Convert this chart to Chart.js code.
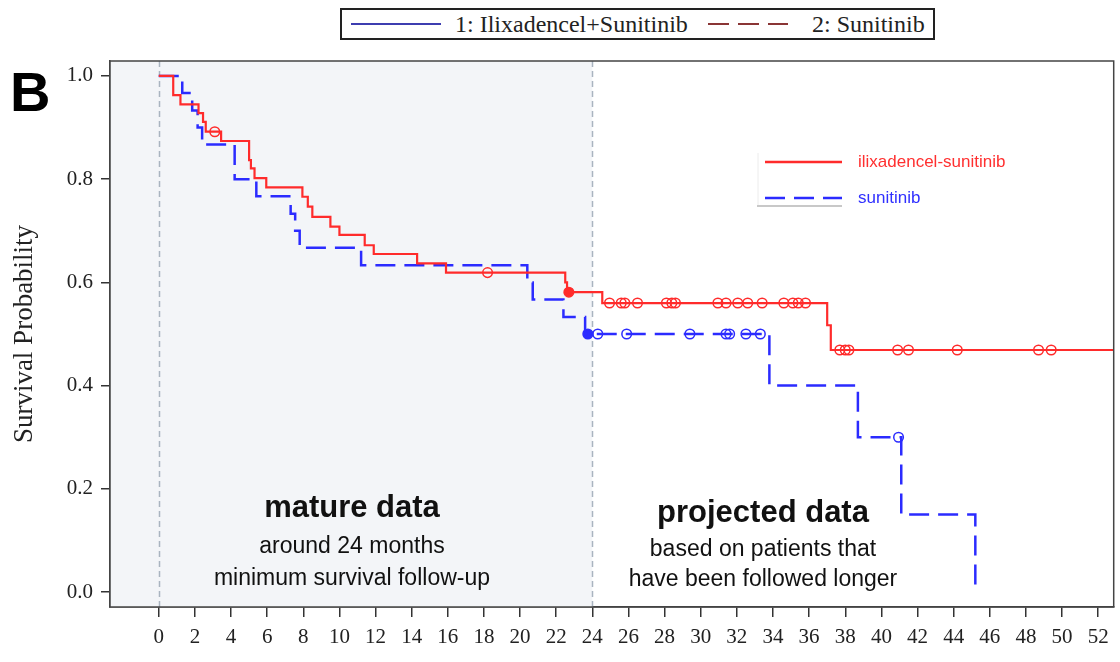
<!DOCTYPE html>
<html lang="en">
<head>
  <meta charset="UTF-8" />
  <title>Survival – ilixadencel-sunitinib vs sunitinib</title>
  <script src="https://cdn.jsdelivr.net/npm/chart.js"></script>
  <style>
    body { margin: 0; background: #fff; }
    #wrap { position: relative; width: 1120px; height: 662px; overflow: hidden; }
    #chart { position: absolute; left: 0; top: 0; }
    .abs { position: absolute; white-space: nowrap; }
    .serif { font-family: 'Liberation Serif', 'Times New Roman', serif; color: #222; }
    .sans { font-family: 'Liberation Sans', Arial, sans-serif; }
    .note { text-align: center; color: #111; }
    #topLegend {
      left: 340px; top: 8px; width: 591px; height: 28px;
      border: 2px solid #222; background: #fff;
    }
  </style>
</head>
<body>
<div id="wrap">
  <canvas id="chart" width="1120" height="662"></canvas>

  <div id="topLegend" class="abs">
    <svg class="abs" style="left:7px;top:0" width="95" height="28">
      <line x1="2" y1="14" x2="92" y2="14" stroke="#3d3db0" stroke-width="2" />
    </svg>
    <div class="abs serif" style="left:113px;top:0;line-height:28px;font-size:24px">1: Ilixadencel+Sunitinib</div>
    <svg class="abs" style="left:364px;top:0" width="85" height="28">
      <line x1="2" y1="14" x2="82" y2="14" stroke="#8a3535" stroke-width="2" stroke-dasharray="21 9" />
    </svg>
    <div class="abs serif" style="left:470px;top:0;line-height:28px;font-size:24px">2: Sunitinib</div>
  </div>

  <div class="abs sans" style="left:10px;top:64px;font-size:56px;font-weight:bold;line-height:1;color:#000">B</div>

  <!-- inner legend -->
  <svg class="abs" style="left:750px;top:148px" width="100" height="64">
    <line x1="8" y1="5" x2="8" y2="58" stroke="#ececec" stroke-width="1" />
    <line x1="15" y1="14" x2="92" y2="14" stroke="#ff2b2b" stroke-width="2.5" />
    <line x1="15" y1="50" x2="92" y2="50" stroke="#2b2bff" stroke-width="2.5" stroke-dasharray="20 9" />
    <line x1="7" y1="58" x2="92" y2="58" stroke="#c8c8c8" stroke-width="2" />
  </svg>
  <div class="abs sans" style="left:858px;top:150px;line-height:24px;font-size:17px;color:#ff3030">ilixadencel-sunitinib</div>
  <div class="abs sans" style="left:858px;top:186px;line-height:24px;font-size:17px;color:#3030ff">sunitinib</div>

  <!-- region notes -->
  <div class="abs sans note" style="left:202px;width:300px;top:488px;line-height:38px;font-size:31px;font-weight:bold">mature data</div>
  <div class="abs sans note" style="left:177px;width:350px;top:531px;line-height:28px;font-size:23px">around 24 months</div>
  <div class="abs sans note" style="left:177px;width:350px;top:563px;line-height:28px;font-size:23px">minimum survival follow-up</div>
  <div class="abs sans note" style="left:588px;width:350px;top:493px;line-height:38px;font-size:31px;font-weight:bold">projected data</div>
  <div class="abs sans note" style="left:588px;width:350px;top:534px;line-height:28px;font-size:23px">based on patients that</div>
  <div class="abs sans note" style="left:588px;width:350px;top:564px;line-height:28px;font-size:23px">have been followed longer</div>
</div>

<script>
  // axis ticks
  const xTicks = [0, 2, 4, 6, 8, 10, 12, 14, 16, 18, 20, 22, 24, 26, 28, 30, 32, 34, 36, 38, 40, 42, 44, 46, 48, 50, 52];
  const yTicks = [0.0, 0.2, 0.4, 0.6, 0.8, 1.0];
  const refLines = [0, 24]; // months

  // ilixadencel-sunitinib: KM step times (months) and survival after each step
  const ilixTimes = [0, 0.8, 1.2, 2.2, 2.45, 2.6, 3.45, 5.0, 5.1, 5.3, 5.95, 7.95, 8.25, 8.5, 9.5, 10.0,
                     11.4, 11.9, 14.3, 15.9, 22.5, 22.6, 24.55, 37.0, 37.2, 53];
  const ilixSurv  = [1.0, 0.963, 0.945, 0.928, 0.911, 0.892, 0.874, 0.837, 0.821, 0.802, 0.784, 0.766, 0.747, 0.727, 0.708, 0.692,
                     0.672, 0.655, 0.637, 0.619, 0.600, 0.581, 0.560, 0.517, 0.469, 0.469];
  const ilixCensor = [3.1, 18.2, 24.95, 25.6, 25.8, 26.5, 28.1, 28.4, 28.6, 30.95, 31.4, 32.05, 32.6, 33.4,
                      34.6, 35.1, 35.4, 35.8, 37.7, 38.0, 38.2, 40.9, 41.5, 44.2, 48.7, 49.4];
  const ilixCensorTied = [22.7];

  // sunitinib
  const sunTimes = [0, 1.3, 1.85, 2.15, 2.4, 4.2, 5.4, 7.3, 7.55, 7.8, 11.2, 20.4, 20.7, 22.4, 23.6, 33.8, 38.7, 41.1, 45.2];
  const sunSurv  = [1.0, 0.967, 0.933, 0.9, 0.867, 0.8, 0.767, 0.733, 0.7, 0.667, 0.633, 0.6, 0.567, 0.533, 0.5, 0.4, 0.3, 0.15, 0.0];
  const sunCensor = [24.3, 25.9, 29.4, 31.4, 31.6, 32.5, 33.3, 40.95];
  const sunCensorTied = [23.75];

  const RED = '#ff2b2b';
  const BLUE = '#2b2bff';

  function curve(times, surv) {
    return times.map((t, i) => ({ x: t, y: surv[i] }));
  }

  // survival value of the curve at time t (for placing censor marks on it)
  function survAt(times, surv, t) {
    let s = surv[0];
    for (let i = 0; i < times.length; i++) {
      if (times[i] <= t) s = surv[i];
    }
    return s;
  }

  function marks(times, surv, cens) {
    return cens.map(t => ({ x: t, y: survAt(times, surv, t) }));
  }

  const backdrop = {
    id: 'backdrop',
    beforeDatasetsDraw(chart) {
      const { ctx, chartArea: a, scales: { x } } = chart;
      ctx.save();
      ctx.fillStyle = '#f3f5f8';
      ctx.fillRect(a.left, a.top, x.getPixelForValue(refLines[1]) - a.left, a.bottom - a.top);
      ctx.strokeStyle = '#a9b4c0';
      ctx.lineWidth = 1.5;
      ctx.setLineDash([6, 4]);
      refLines.forEach(v => {
        const px = Math.round(x.getPixelForValue(v)) + 0.5;
        ctx.beginPath();
        ctx.moveTo(px, a.top);
        ctx.lineTo(px, a.bottom);
        ctx.stroke();
      });
      ctx.restore();
    },
    afterDraw(chart) {
      const { ctx, chartArea: a } = chart;
      ctx.save();
      ctx.strokeStyle = '#444';
      ctx.lineWidth = 1.5;
      ctx.strokeRect(a.left, a.top, a.right - a.left, a.bottom - a.top);
      ctx.restore();
    }
  };

  const censorStyle = (color, filled) => ({
    type: 'scatter',
    showLine: false,
    pointStyle: 'circle',
    pointRadius: 4.8,
    pointBorderWidth: 1.5,
    pointBorderColor: color,
    pointBackgroundColor: filled ? color : 'rgba(255,255,255,0)',
    borderColor: color
  });

  new Chart(document.getElementById('chart'), {
    type: 'line',
    data: {
      datasets: [
        {
          label: 'ilixadencel-sunitinib',
          data: curve(ilixTimes, ilixSurv),
          borderColor: RED,
          borderWidth: 2.2,
          stepped: 'before',
          pointRadius: 0,
          fill: false
        },
        {
          label: 'sunitinib',
          data: curve(sunTimes, sunSurv),
          borderColor: BLUE,
          borderWidth: 2.5,
          borderDash: [20, 9],
          stepped: 'before',
          pointRadius: 0,
          fill: false
        },
        { label: 'ilix censored', data: marks(ilixTimes, ilixSurv, ilixCensor), ...censorStyle(RED, false) },
        { label: 'ilix censored tied', data: marks(ilixTimes, ilixSurv, ilixCensorTied), ...censorStyle(RED, true) },
        { label: 'sun censored', data: marks(sunTimes, sunSurv, sunCensor), ...censorStyle(BLUE, false) },
        { label: 'sun censored tied', data: marks(sunTimes, sunSurv, sunCensorTied), ...censorStyle(BLUE, true) }
      ]
    },
    options: {
      responsive: false,
      animation: false,
      layout: { padding: { top: 61, right: 3, left: 0, bottom: 0 } },
      plugins: { legend: { display: false }, tooltip: { enabled: false } },
      scales: {
        x: {
          type: 'linear',
          min: -2.7,
          max: 52.86,
          afterFit: s => { s.height = 55; },
          afterBuildTicks: s => { s.ticks = xTicks.map(v => ({ value: v })); },
          grid: { drawOnChartArea: false, drawTicks: true, tickLength: 10, color: '#333', lineWidth: 1.5 },
          border: { display: true, color: '#444', width: 1.5 },
          ticks: {
            padding: 8,
            color: '#222',
            maxRotation: 0,
            autoSkip: false,
            font: { family: 'Liberation Serif', size: 21 },
            callback: v => String(v)
          }
        },
        y: {
          type: 'linear',
          min: -0.029,
          max: 1.029,
          afterFit: s => { s.width = 110; },
          afterBuildTicks: s => { s.ticks = yTicks.map(v => ({ value: v })); },
          grid: { drawOnChartArea: false, drawTicks: true, tickLength: 9, color: '#333', lineWidth: 1.5 },
          border: { display: true, color: '#444', width: 1.5 },
          title: {
            display: true,
            text: 'Survival Probability',
            color: '#222',
            font: { family: 'Liberation Serif', size: 27 },
            padding: { top: 9, bottom: 0 }
          },
          ticks: {
            padding: 8,
            color: '#222',
            font: { family: 'Liberation Serif', size: 21 },
            callback: v => v.toFixed(1)
          }
        }
      }
    },
    plugins: [backdrop]
  });
</script>
</body>
</html>
